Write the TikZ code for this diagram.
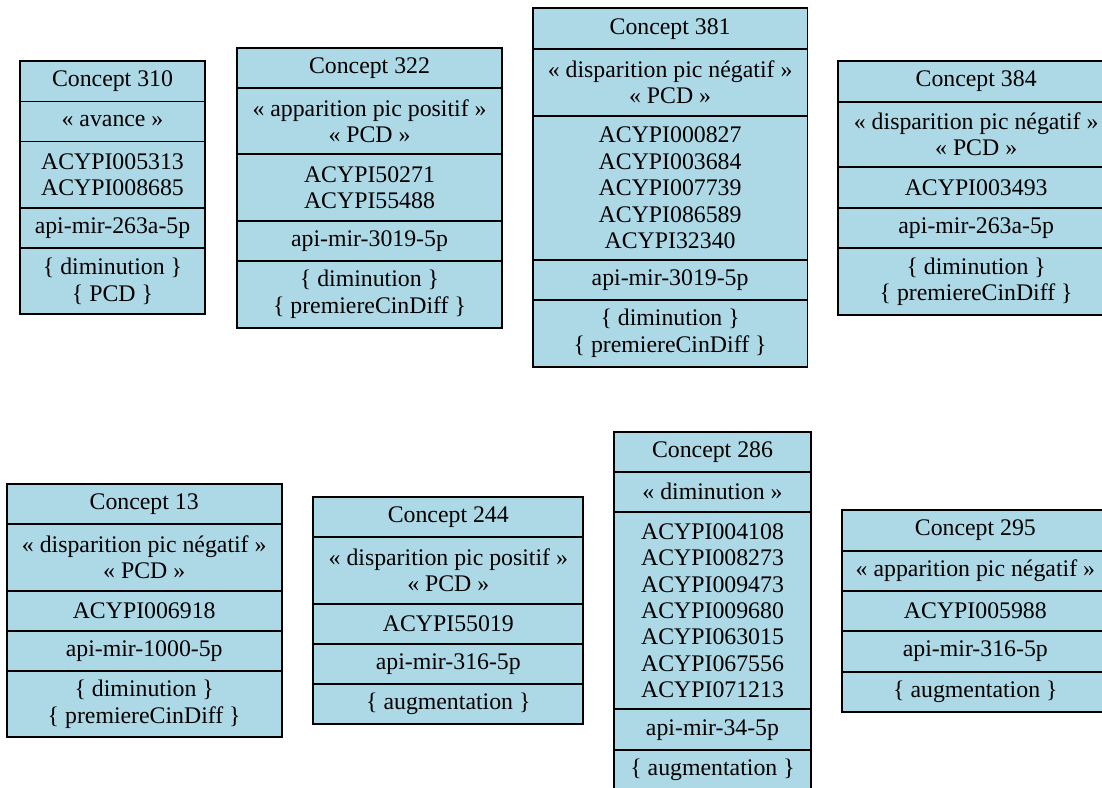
\documentclass[tikz,border=0pt]{standalone}
\usepackage{fontspec}
\setmainfont{Liberation Serif}
\newfontfamily\tnrfont{Liberation Serif}
\definecolor{lblue}{HTML}{ADD8E6}
\tikzset{
  cell/.style={draw=black, fill=lblue, line width=1.8pt, inner sep=0pt, align=center,
    font=\tnrfont\fontsize{23.8}{26.4}\selectfont, text=black}
}
\newcommand{\mkcell}[6]{\node[cell, minimum width={(#4-#2)*1pt}, minimum height={(#5-#3)*1pt}] (#1) at ({(#2+#4)/2},{(#3+#5)/2}) {#6};}
\begin{document}
\begin{tikzpicture}[x=1pt,y=-1pt]
\useasboundingbox (0,0) rectangle (1102,787);
\clip (0,0) rectangle (1102,787);
% Concept 310
\mkcell{a1}{20}{61}{205}{101.5}{Concept 310}
\mkcell{a2}{20}{101.5}{205}{141.5}{« avance »}
\mkcell{a3}{20}{141.5}{205}{208.3}{ACYPI005313\\ACYPI008685}
\mkcell{a4}{20}{208.3}{205}{248.3}{api-mir-263a-5p}
\mkcell{a5}{20}{248.3}{205}{314}{\{ diminution \}\\\{ PCD \}}
% Concept 322
\mkcell{b1}{237.3}{48.3}{501.7}{88.3}{Concept 322}
\mkcell{b2}{237.3}{88.3}{501.7}{154.3}{« apparition pic positif »\\« PCD »}
\mkcell{b3}{237.3}{154.3}{501.7}{221}{ACYPI50271\\ACYPI55488}
\mkcell{b4}{237.3}{221}{501.7}{261}{api-mir-3019-5p}
\mkcell{b5}{237.3}{261}{501.7}{327.7}{\{ diminution \}\\\{ premiereCinDiff \}}
% Concept 381
\mkcell{c1}{532.7}{8.3}{807.5}{49}{Concept 381}
\mkcell{c2}{532.7}{49}{807.5}{115.7}{« disparition pic négatif »\\« PCD »}
\mkcell{c3}{532.7}{115.7}{807.5}{260}{ACYPI000827\\ACYPI003684\\ACYPI007739\\ACYPI086589\\ACYPI32340}
\mkcell{c4}{532.7}{260}{807.5}{300}{api-mir-3019-5p}
\mkcell{c5}{532.7}{300}{807.5}{366.7}{\{ diminution \}\\\{ premiereCinDiff \}}
% Concept 384
\mkcell{d1}{838.3}{61}{1114}{101.7}{Concept 384}
\mkcell{d2}{838.3}{101.7}{1114}{167.3}{« disparition pic négatif »\\« PCD »}
\mkcell{d3}{838.3}{167.3}{1114}{207.7}{ACYPI003493}
\mkcell{d4}{838.3}{207.7}{1114}{248.3}{api-mir-263a-5p}
\mkcell{d5}{838.3}{248.3}{1114}{315}{\{ diminution \}\\\{ premiereCinDiff \}}
% Concept 13
\mkcell{e1}{6.7}{484}{281.7}{524}{Concept 13}
\mkcell{e2}{6.7}{524}{281.7}{590.7}{« disparition pic négatif »\\« PCD »}
\mkcell{e3}{6.7}{590.7}{281.7}{631}{ACYPI006918}
\mkcell{e4}{6.7}{631}{281.7}{671}{api-mir-1000-5p}
\mkcell{e5}{6.7}{671}{281.7}{737.3}{\{ diminution \}\\\{ premiereCinDiff \}}
% Concept 244
\mkcell{f1}{313.3}{497.3}{583.3}{537.3}{Concept 244}
\mkcell{f2}{313.3}{537.3}{583.3}{603.7}{« disparition pic positif »\\« PCD »}
\mkcell{f3}{313.3}{603.7}{583.3}{643.7}{ACYPI55019}
\mkcell{f4}{313.3}{643.7}{583.3}{684.3}{api-mir-316-5p}
\mkcell{f5}{313.3}{684.3}{583.3}{724.3}{\{ augmentation \}}
% Concept 286
\mkcell{g1}{614.3}{431.7}{810.7}{471.7}{Concept 286}
\mkcell{g2}{614.3}{471.7}{810.7}{512}{« diminution »}
\mkcell{g3}{614.3}{512}{810.7}{709.3}{ACYPI004108\\ACYPI008273\\ACYPI009473\\ACYPI009680\\ACYPI063015\\ACYPI067556\\ACYPI071213}
\mkcell{g4}{614.3}{709.3}{810.7}{750}{api-mir-34-5p}
\mkcell{g5}{614.3}{750}{810.7}{790.5}{\{ augmentation \}}
% Concept 295
\mkcell{h1}{841.7}{510}{1109}{551}{Concept 295}
\mkcell{h2}{841.7}{551}{1109}{591}{« apparition pic négatif »}
\mkcell{h3}{841.7}{591}{1109}{631}{ACYPI005988}
\mkcell{h4}{841.7}{631}{1109}{671.7}{api-mir-316-5p}
\mkcell{h5}{841.7}{671.7}{1109}{711.7}{\{ augmentation \}}
\end{tikzpicture}
\end{document}
